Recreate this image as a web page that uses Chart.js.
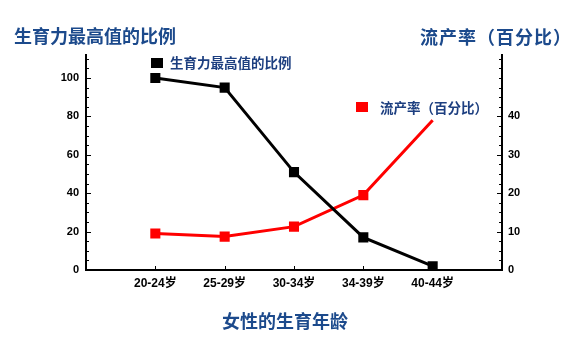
<!DOCTYPE html>
<html>
<head>
<meta charset="utf-8">
<script src="https://cdn.jsdelivr.net/npm/chart.js@4/dist/chart.umd.min.js"></script>
<style>
  body { margin: 0; background: #fff; }
  #wrap { position: relative; width: 582px; height: 351px; }
  #chart { position: absolute; left: 0; top: 0; }
  .title { position: absolute; font-family: "Noto Sans CJK SC", sans-serif; font-weight: 700; font-size: 18px; color: #1c4a8c; white-space: nowrap; line-height: 1; }
  .legend { position: absolute; font-family: "Noto Sans CJK SC", sans-serif; font-weight: 700; font-size: 13.5px; color: #1d3f80; white-space: nowrap; line-height: 1; }
  .sw { position: absolute; width: 12px; height: 10px; }
</style>
</head>
<body>
<div id="wrap">
  <canvas id="chart" width="582" height="351"></canvas>
  <div class="title" style="left:14px; top:26px;">生育力最高值的比例</div>
  <div class="title" style="left:420px; top:27px; letter-spacing:1px;">流产率（百分比）</div>
  <div class="title" style="left:222px; top:311px;">女性的生育年龄</div>
  <div class="sw" style="left:151px; top:58px; background:#000;"></div>
  <div class="legend" style="left:170px; top:56px;">生育力最高值的比例</div>
  <div class="sw" style="left:356px; top:102px; background:#f00;"></div>
  <div class="legend" style="left:380px; top:101px;">流产率（百分比）</div>
</div>
<script>
// age groups, padded with empty slots on both ends
const ageGroups = ['', '20-24岁', '25-29岁', '30-34岁', '34-39岁', '40-44岁', ''];
const fertility = [null, 100, 95, 51, 17, 2, null];
const miscarriage = [null, 9.5, 8.7, 11.3, 19.5, 39, null];
const leftTicks = [0, 20, 40, 60, 80, 100];
const rightTicks = [0, 10, 20, 30, 40];

const tickFont = { family: 'Liberation Sans, "Noto Sans CJK SC"', size: 11, weight: 'bold' };

// small tick marks drawn inside the plot, like the original
const innerTicks = {
    id: 'innerTicks',
    afterDraw(c) {
        const ctx = c.ctx;
        const a = c.chartArea;
        ctx.save();
        ctx.strokeStyle = '#000';
        ctx.lineWidth = 1;
        const yl = c.scales.y;
        for (let v = 5; v <= 110; v += 5) {
            const p = Math.round(yl.getPixelForValue(v)) + 0.5;
            ctx.beginPath();
            ctx.moveTo(a.left, p);
            ctx.lineTo(a.left + (leftTicks.includes(v) ? 5 : 3), p);
            ctx.stroke();
        }
        const yr = c.scales.y2;
        for (let v = 2.5; v <= 55; v += 2.5) {
            const p = Math.round(yr.getPixelForValue(v)) + 0.5;
            ctx.beginPath();
            ctx.moveTo(a.right, p);
            ctx.lineTo(a.right - (rightTicks.includes(v) ? 5 : 3), p);
            ctx.stroke();
        }
        const x = c.scales.x;
        for (let i = 1; i < ageGroups.length - 1; i++) {
            const p = Math.round(x.getPixelForValue(i)) + 0.5;
            ctx.beginPath();
            ctx.moveTo(p, a.bottom);
            ctx.lineTo(p, a.bottom - 4);
            ctx.stroke();
        }
        ctx.restore();
    }
};

const ctx = document.getElementById('chart').getContext('2d');
new Chart(ctx, {
    type: 'line',
    plugins: [innerTicks],
    data: {
        labels: ageGroups,
        datasets: [{
            label: '生育力最高值的比例',
            data: fertility,
            yAxisID: 'y',
            borderColor: '#000',
            backgroundColor: '#000',
            borderWidth: 3,
            pointStyle: 'rect',
            pointRadius: 5,
            tension: 0
        }, {
            label: '流产率（百分比）',
            data: miscarriage,
            yAxisID: 'y2',
            borderColor: '#f00',
            backgroundColor: '#f00',
            borderWidth: 3,
            pointStyle: 'rect',
            pointRadius: [0, 5, 5, 5, 5, 0, 0],
            tension: 0
        }]
    },
    options: {
        responsive: false,
        animation: false,
        layout: { padding: { top: 55, left: 0, right: 0, bottom: 0 } },
        plugins: {
            legend: { display: false },
            tooltip: { enabled: false }
        },
        scales: {
            x: {
                offset: false,
                grid: { display: false, drawTicks: false },
                border: { color: '#000', width: 2 },
                ticks: { color: '#000', font: { ...tickFont, size: 12 }, padding: 6, autoSkip: false, maxRotation: 0 },
                afterFit(s) { s.height = 81; }
            },
            y: {
                position: 'left',
                min: 0,
                max: 112,
                grid: { display: false, drawTicks: false },
                border: { color: '#000', width: 2 },
                afterBuildTicks(s) { s.ticks = leftTicks.map(v => ({ value: v })); },
                ticks: { color: '#000', font: tickFont, padding: 7 },
                afterFit(s) { s.width = 86; }
            },
            y2: {
                position: 'right',
                min: 0,
                max: 56,
                grid: { display: false, drawTicks: false },
                border: { color: '#000', width: 2 },
                afterBuildTicks(s) { s.ticks = rightTicks.map(v => ({ value: v })); },
                ticks: { color: '#000', font: tickFont, padding: 6 },
                afterFit(s) { s.width = 80; }
            }
        }
    }
});
</script>
</body>
</html>
